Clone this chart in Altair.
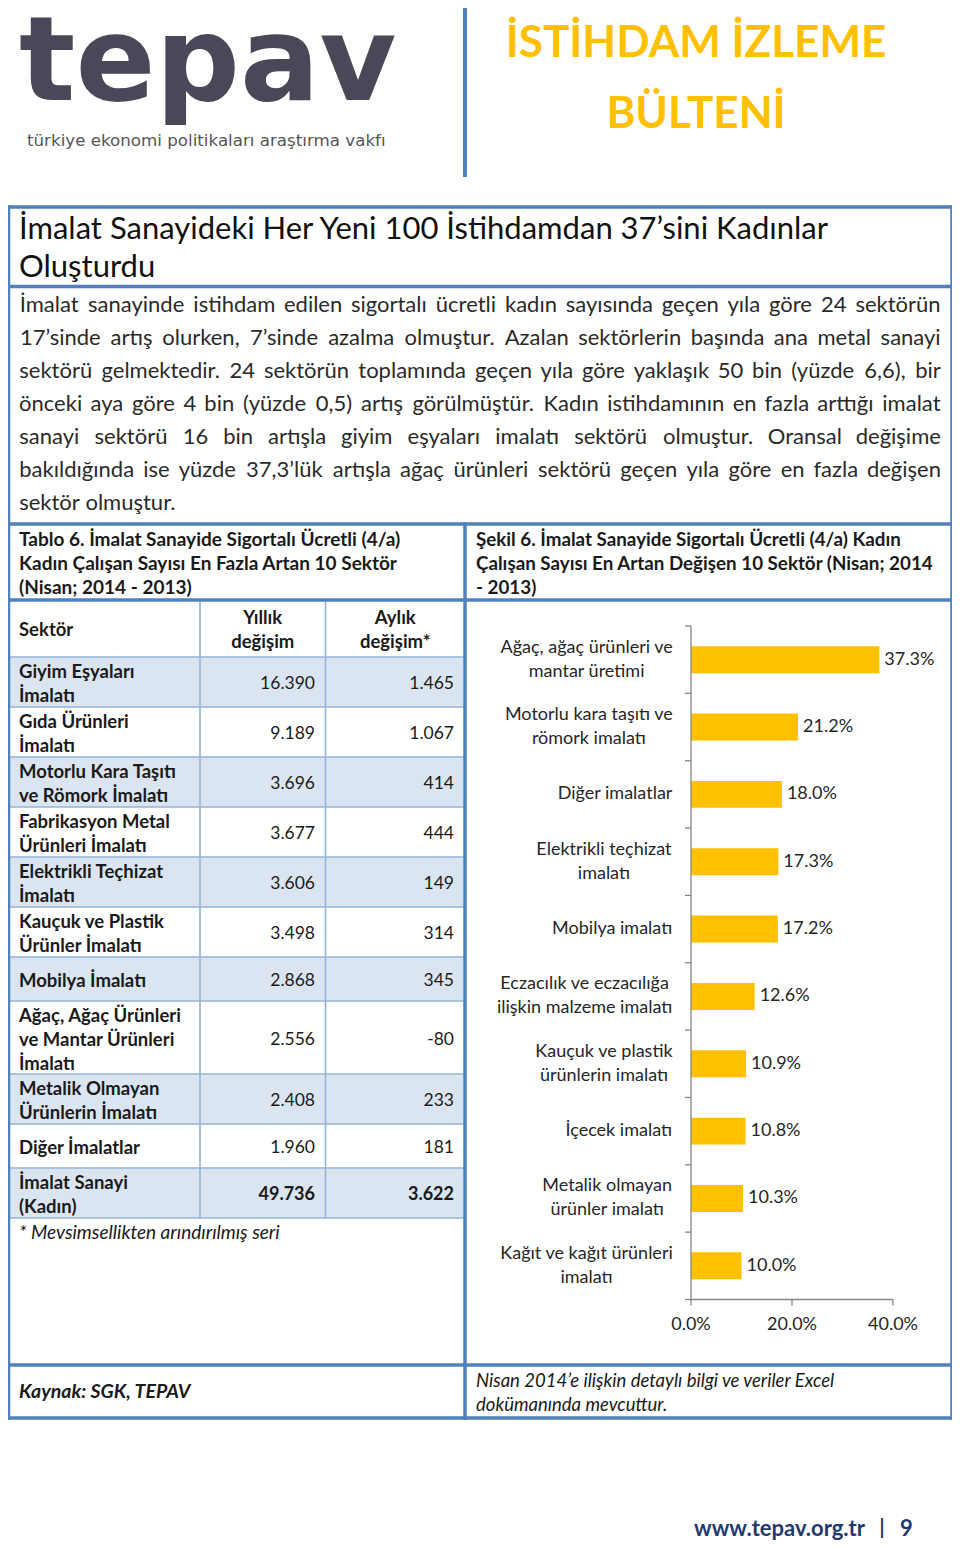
import altair as alt
import pandas as pd

# ---------------- data ----------------
chart_label_lines = [
    ["Ağaç, ağaç ürünleri ve", "mantar üretimi"],
    ["Motorlu kara taşıtı ve", "römork imalatı"],
    ["Diğer imalatlar"],
    ["Elektrikli teçhizat", "imalatı"],
    ["Mobilya imalatı"],
    ["Eczacılık ve eczacılığa", "ilişkin malzeme imalatı"],
    ["Kauçuk ve plastik", "ürünlerin imalatı"],
    ["İçecek imalatı"],
    ["Metalik olmayan", "ürünler imalatı"],
    ["Kağıt ve kağıt ürünleri", "imalatı"],
]
chart_values = [37.3, 21.2, 18.0, 17.3, 17.2, 12.6, 10.9, 10.8, 10.3, 10.0]
chart_ticks = [0, 20, 40]

table_sectors = [
    ["Giyim Eşyaları", "İmalatı"],
    ["Gıda Ürünleri", "İmalatı"],
    ["Motorlu Kara Taşıtı", "ve Römork İmalatı"],
    ["Fabrikasyon Metal", "Ürünleri İmalatı"],
    ["Elektrikli Teçhizat", "İmalatı"],
    ["Kauçuk ve Plastik", "Ürünler İmalatı"],
    ["Mobilya İmalatı"],
    ["Ağaç, Ağaç Ürünleri", "ve Mantar Ürünleri", "İmalatı"],
    ["Metalik Olmayan", "Ürünlerin İmalatı"],
    ["Diğer İmalatlar"],
    ["İmalat Sanayi", "(Kadın)"],
]
table_yillik = [16390, 9189, 3696, 3677, 3606, 3498, 2868, 2556, 2408, 1960, 49736]
table_aylik = [1465, 1067, 414, 444, 149, 314, 345, -80, 233, 181, 3622]
table_header = ["Sektör", "Yıllık\ndeğişim", "Aylık\ndeğişim*"]

headline_lines = ["İmalat Sanayideki Her Yeni 100 İstihdamdan 37’sini Kadınlar", "Oluşturdu"]
paragraph_lines = [
    "İmalat sanayinde istihdam edilen sigortalı ücretli kadın sayısında geçen yıla göre 24 sektörün",
    "17’sinde artış olurken, 7’sinde azalma olmuştur. Azalan sektörlerin başında ana metal sanayi",
    "sektörü gelmektedir. 24 sektörün toplamında geçen yıla göre yaklaşık 50 bin (yüzde 6,6), bir",
    "önceki aya göre 4 bin (yüzde 0,5) artış görülmüştür. Kadın istihdamının en fazla arttığı imalat",
    "sanayi sektörü 16 bin artışla giyim eşyaları imalatı sektörü olmuştur. Oransal değişime",
    "bakıldığında ise yüzde 37,3’lük artışla ağaç ürünleri sektörü geçen yıla göre en fazla değişen",
    "sektör olmuştur.",
]
table_title_lines = ["Tablo 6. İmalat Sanayide Sigortalı Ücretli (4/a)",
                     "Kadın Çalışan Sayısı En Fazla Artan 10 Sektör",
                     "(Nisan; 2014 - 2013)"]
chart_title_lines = ["Şekil 6. İmalat Sanayide Sigortalı Ücretli (4/a) Kadın",
                     "Çalışan Sayısı En Artan Değişen 10 Sektör (Nisan; 2014",
                     "- 2013)"]
footnote = "* Mevsimsellikten arındırılmış seri"
source_text = "Kaynak: SGK, TEPAV"
note_lines = ["Nisan 2014’e ilişkin detaylı bilgi ve veriler Excel", "dokümanında mevcuttur."]
logo_text = "tepav"
logo_sub = "türkiye ekonomi politikaları araştırma vakfı"
bulletin_lines = ["İSTİHDAM İZLEME", "BÜLTENİ"]
site_text = "www.tepav.org.tr"
page_no = "9"

# ---------------- layout / style ----------------
M = 8
W, H = 944, 1533
BLUE = "#4f81bd"
GRID = "#95b3d7"
SHADE = "#dbe5f1"
YELLOW = "#ffc000"
TXT = "#1a1a1a"
AXIS = "#868686"
FONT = "Lato"
NAVY = "#1f3a70"


def P(v):
    return v - M


# rough Lato advance widths (em), used for centring labels and justifying text
_W = {" ": .193, "f": .31, "t": .35, "r": .37, "s": .42, "ş": .42, "z": .44, "c": .46, "ç": .46,
      "x": .48, "k": .49, "a": .49, "v": .5, "y": .5, "g": .5, "ğ": .5, "e": .51, "m": .82,
      "w": .76, "İ": .28, "I": .28, "M": .87, "%": .78, "(": .3, ")": .3, "-": .35}
for ch in "iılj.,:;'’|!":
    _W[ch] = .23
for ch in "bdhnopquüö":
    _W[ch] = .55


def est_width(s, size):
    tot = 0.0
    for ch in s:
        if ch in _W:
            tot += _W[ch]
        elif ch.isdigit():
            tot += .58
        elif ch.isupper():
            tot += .64
        else:
            tot += .5
    return tot * size * 1.03


def texts(rows, **props):
    props.setdefault("baseline", "middle")
    props.setdefault("align", "left")
    props.setdefault("font", FONT)
    props.setdefault("color", TXT)
    lh = props.get("lineHeight", props.get("fontSize", 11) * 1.2)
    fixed = []
    for x, y, t in rows:
        n_lines = t.count("\n") + 1
        fixed.append((x - M, y - M - (n_lines - 1) * lh / 2, t))
    df = pd.DataFrame(fixed, columns=["x", "y", "t"])
    return alt.Chart(df).mark_text(lineBreak="\n", **props).encode(
        x=alt.X("x:Q", scale=None, axis=None),
        y=alt.Y("y:Q", scale=None, axis=None),
        text="t:N",
    )


def rules(rows, color, width, cap="butt"):
    df = pd.DataFrame(rows, columns=["x1", "y1", "x2", "y2"]) - M
    return alt.Chart(df).mark_rule(color=color, strokeWidth=width, strokeCap=cap).encode(
        x=alt.X("x1:Q", scale=None, axis=None), x2="x2:Q",
        y=alt.Y("y1:Q", scale=None, axis=None), y2="y2:Q",
    )


def rects(rows, color):
    df = pd.DataFrame(rows, columns=["x1", "y1", "x2", "y2"]) - M
    return alt.Chart(df).mark_rect(color=color).encode(
        x=alt.X("x1:Q", scale=None, axis=None), x2="x2:Q",
        y=alt.Y("y1:Q", scale=None, axis=None), y2="y2:Q",
    )


layers = []

# ---- header ----
layers.append(texts([(19, 100, logo_text)], font="DejaVu Sans", fontWeight="bold", fontSize=118,
                    color="#4a4759", baseline="alphabetic"))
layers.append(texts([(27, 146, logo_sub)], font="DejaVu Sans", fontSize=16.7, color="#555555",
                    baseline="alphabetic"))
layers.append(rules([(465, 3, 465, 177)], BLUE, 4))
layers.append(texts([(696, 57, bulletin_lines[0]), (696, 128, bulletin_lines[1])], fontWeight="bold",
                    fontSize=44, color=YELLOW, align="center", baseline="alphabetic"))

# ---- table geometry ----
row_h = {1: 44, 2: 50, 3: 73}
tbl_top, head_h = 600, 57
edges = [tbl_top, tbl_top + head_h]
for s in table_sectors:
    edges.append(edges[-1] + row_h[len(s)])
tbl_bot = edges[-1]
TL, TR, C1, C2 = 10, 465, 200, 325.5

shade_rows = [(TL, edges[i + 1], TR, edges[i + 2]) for i in range(len(table_sectors)) if i % 2 == 0]
layers.append(rects(shade_rows, SHADE))
grid = [(TL, e, TR, e) for e in edges[1:]]
grid += [(C1, tbl_top, C1, tbl_bot), (C2, tbl_top, C2, tbl_bot)]
layers.append(rules(grid, GRID, 1.6))

# ---- main box ----
L, R, T, B = 8.5, 952, 207, 1418
box = [(L, T, R, T), (L, B, R, B), (L, T, L, B), (R, T, R, B),
       (L, 286.5, R, 286.5), (L, 524, R, 524), (L, 600, R, 600), (L, 1365, R, 1365),
       (465, 524, 465, B)]
layers.append(rules(box, BLUE, 3.5, cap="square"))

# ---- headline ----
layers.append(texts([(19, 230, headline_lines[0]), (19, 268, headline_lines[1])], fontSize=31,
                    color="#111111"))

# ---- justified paragraph (word by word) ----
PARA_FS = 22
PX0, PX1 = 19, 941
word_rows = []
for i, line in enumerate(paragraph_lines):
    y = 305 + 33 * i
    words = line.split(" ")
    ew = [est_width(w, PARA_FS) for w in words]
    if i == len(paragraph_lines) - 1 or len(words) < 2:
        gap = est_width(" ", PARA_FS)
    else:
        gap = (PX1 - PX0 - sum(ew)) / (len(words) - 1)
    x = PX0
    for w, e in zip(words, ew):
        word_rows.append((x + e / 2, y, w))
        x += e + gap
layers.append(texts(word_rows, fontSize=PARA_FS, color="#2a2a2a", align="center"))

# ---- titles ----
layers.append(texts([(19, 540 + 24 * i, s) for i, s in enumerate(table_title_lines)], fontSize=19,
                    fontWeight="bold"))
layers.append(texts([(476, 540 + 24 * i, s) for i, s in enumerate(chart_title_lines)], fontSize=18.8,
                    fontWeight="bold"))

# ---- table text ----
head_c = tbl_top + head_h / 2 + 1
layers.append(texts([(19, head_c, table_header[0])], fontSize=18.5, fontWeight="bold"))
layers.append(texts([((C1 + C2) / 2, head_c, table_header[1]), ((C2 + TR) / 2, head_c, table_header[2])],
                    fontSize=18.5, fontWeight="bold", align="center", lineHeight=24))
sector_rows, y_rows, a_rows, tot_rows = [], [], [], []
n_rows = len(table_sectors)
for i, s in enumerate(table_sectors):
    c = (edges[i + 1] + edges[i + 2]) / 2
    sector_rows.append((19, c + 2, "\n".join(s)))
    ys = f"{table_yillik[i]:,}".replace(",", ".")
    as_ = f"{table_aylik[i]:,}".replace(",", ".")
    if i == n_rows - 1:
        tot_rows += [(315, c + 2, ys), (454, c + 2, as_)]
    else:
        y_rows.append((315, c + 2, ys))
        a_rows.append((454, c + 2, as_))
layers.append(texts(sector_rows, fontSize=18.5, fontWeight="bold", lineHeight=24))
layers.append(texts(y_rows + a_rows, fontSize=17.5, align="right"))
layers.append(texts(tot_rows, fontSize=18, align="right", fontWeight="bold"))
layers.append(texts([(19, 1233, footnote)], fontSize=19, fontStyle="italic"))

# ---- footer ----
layers.append(texts([(19, 1392, source_text)], fontSize=19.5, fontStyle="italic", fontWeight="bold"))
layers.append(texts([(476, 1381, note_lines[0]), (476, 1405, note_lines[1])], fontSize=18.5,
                    fontStyle="italic"))
layers.append(texts([(865, 1529, site_text)], fontSize=22, fontWeight="bold", color=NAVY, align="right"))
layers.append(texts([(882, 1528, "|")], fontSize=21, fontWeight="bold", color=NAVY, align="center"))
layers.append(texts([(900, 1529, page_no)], fontSize=22, fontWeight="bold", color=NAVY))

# ---- bar chart ----
n = len(chart_values)
cats = [" ".join(l) for l in chart_label_lines]
LAB_FS = 18
LAB_LH = 24
chart_df = pd.DataFrame({
    "cat": cats,
    "value": chart_values,
    "label": ["\n".join(l) for l in chart_label_lines],
    "nl": [len(l) for l in chart_label_lines],
    "vlabel": [f"{v:.1f}%" for v in chart_values],
    "lx": [P(672) - max(est_width(s, LAB_FS) for s in l) / 2 for l in chart_label_lines],
})
X0, X1 = 691, 893          # pixel extent of 0 % .. 40 %
Y0, Y1 = 626, 1299.5       # pixel extent of category axis
XS = alt.Scale(domain=[chart_ticks[0], chart_ticks[-1]], range=[P(X0), P(X1)], nice=False, zero=True)
YB = alt.Scale(domain=cats, range=[P(Y0), P(Y1)], paddingInner=0.6, paddingOuter=0.3)
YT = alt.Scale(domain=[0, n], range=[P(Y0), P(Y1)], nice=False, zero=False)
px_per_unit = (X1 - X0) / (chart_ticks[-1] - chart_ticks[0])
step_px = (Y1 - Y0) / n
TICK = 6

bars = alt.Chart(chart_df).mark_bar(color=YELLOW).encode(
    x=alt.X("value:Q", scale=XS, axis=None),
    y=alt.Y("cat:N", scale=YB, axis=None),
)
vlabels = alt.Chart(chart_df).mark_text(align="left", baseline="middle", dx=5, font=FONT,
                                        fontSize=LAB_FS, color="#262626").encode(
    x=alt.X("value:Q", scale=XS, axis=None),
    y=alt.Y("cat:N", scale=YB, axis=None),
    text="vlabel:N",
)
clabel_layers = []
for nl in sorted(chart_df["nl"].unique()):
    sub = chart_df[chart_df["nl"] == nl]
    clabel_layers.append(
        alt.Chart(sub).mark_text(align="center", baseline="middle", lineBreak="\n", lineHeight=LAB_LH,
                                 dy=-(int(nl) - 1) * LAB_LH / 2, font=FONT, fontSize=LAB_FS,
                                 color="#262626").encode(
            x=alt.X("lx:Q", scale=None, axis=None),
            y=alt.Y("cat:N", scale=YB, axis=None),
            text="label:N",
        )
    )
axis_df = pd.DataFrame({"v0": [chart_ticks[0]], "v1": [chart_ticks[-1]], "i0": [0], "i1": [n]})
yaxis = alt.Chart(axis_df).mark_rule(color=AXIS, strokeWidth=1.3).encode(
    x=alt.X("v0:Q", scale=XS, axis=None), y=alt.Y("i0:Q", scale=YT, axis=None), y2="i1:Q")
xaxis = alt.Chart(axis_df).mark_rule(color=AXIS, strokeWidth=1.3).encode(
    x=alt.X("v0:Q", scale=XS, axis=None), x2="v1:Q", y=alt.Y("i1:Q", scale=YT, axis=None))
ytick_df = pd.DataFrame({"i": list(range(n + 1)), "v0": 0.0, "v1": -TICK / px_per_unit})
yticks = alt.Chart(ytick_df).mark_rule(color=AXIS, strokeWidth=1.3).encode(
    x=alt.X("v0:Q", scale=XS, axis=None), x2="v1:Q", y=alt.Y("i:Q", scale=YT, axis=None))
xtick_df = pd.DataFrame({"t": chart_ticks, "i0": n, "i1": n + TICK / step_px,
                         "lab": [f"{t:.1f}%" for t in chart_ticks]})
xticks = alt.Chart(xtick_df).mark_rule(color=AXIS, strokeWidth=1.3).encode(
    x=alt.X("t:Q", scale=XS, axis=None), y=alt.Y("i0:Q", scale=YT, axis=None), y2="i1:Q")
xlabels = alt.Chart(xtick_df).mark_text(align="center", baseline="middle", dy=25, font=FONT,
                                        fontSize=LAB_FS, color="#262626").encode(
    x=alt.X("t:Q", scale=XS, axis=None), y=alt.Y("i0:Q", scale=YT, axis=None), text="lab:N")

layers += [bars, vlabels] + clabel_layers + [yaxis, xaxis, yticks, xticks, xlabels]

chart = alt.layer(*layers).resolve_scale(x="independent", y="independent").properties(
    width=W, height=H, padding=0, background="white",
    autosize=alt.AutoSizeParams(type="none"),
).configure_view(stroke=None)

chart.save("out.html", embed_options={"renderer": "svg", "actions": False})
